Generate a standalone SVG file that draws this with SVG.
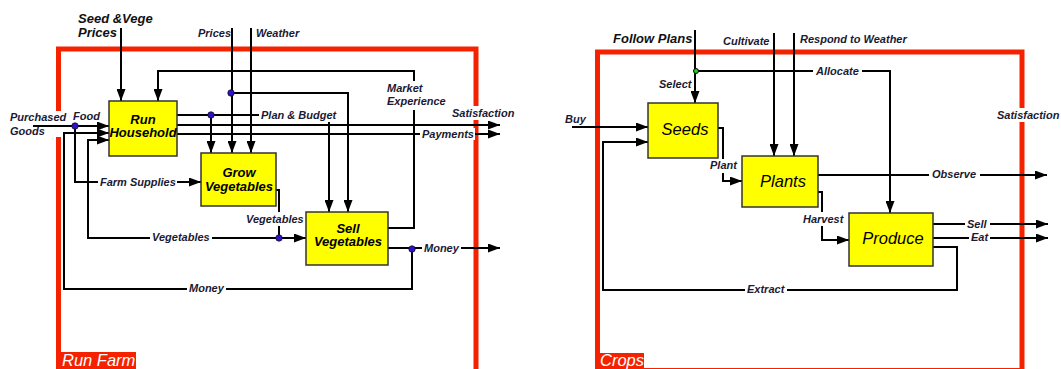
<svg xmlns="http://www.w3.org/2000/svg" width="1061" height="369" viewBox="0 0 1061 369">
<style>
.frame{fill:none;stroke:#f52200;stroke-width:5}
.fbox{fill:#f52200}
.ftxt{font-family:"Liberation Sans",Arial,sans-serif;font-style:italic;font-size:16.5px;fill:#fff}
.node{fill:#ffff00;stroke:#333;stroke-width:1.5}
.nb{font-family:"Liberation Sans",Arial,sans-serif;font-style:italic;font-weight:bold;font-size:13px;fill:#000;text-anchor:middle}
.nr{font-family:"Liberation Sans",Arial,sans-serif;font-style:italic;font-size:16.5px;fill:#000;text-anchor:middle}
.c{fill:none;stroke:#000;stroke-width:2}
.ca{fill:none;stroke:#000;stroke-width:2;marker-end:url(#ah)}
.l{font-family:"Liberation Sans",Arial,sans-serif;font-style:italic;font-weight:bold;font-size:11px;fill:#1a1a33}
.big{font-family:"Liberation Sans",Arial,sans-serif;font-style:italic;font-weight:bold;font-size:13px;fill:#111}
.bg{fill:#fff}
.dot{fill:#3010d0;stroke:#111;stroke-width:0.8}
.gdot{fill:#22cc22;stroke:#000;stroke-width:1}
</style>
<defs>
<marker id="ah" markerUnits="userSpaceOnUse" markerWidth="13" markerHeight="9" refX="12" refY="4.5" orient="auto">
<path d="M0,0 L12,4.5 L0,9 z" fill="#000"/>
</marker>
</defs>
<rect width="1061" height="369" fill="#fff"/>

<!-- frames -->
<g id="frame-runfarm">
<rect class="frame" x="58.5" y="49" width="417.5" height="340"/>
<rect class="bg" x="8" y="111" width="60" height="26"/>
<rect class="fbox" x="56" y="352" width="80" height="20"/>
<text class="ftxt" x="62" y="366">Run Farm</text>
</g>
<g id="frame-crops">
<rect class="frame" x="597.5" y="52" width="424.5" height="318.5"/>
<rect class="fbox" x="595" y="353" width="49" height="19"/>
<text class="ftxt" x="600" y="366">Crops</text>
</g>

<!-- connectors -->
<g id="connectors">
<!-- left diagram -->
<path class="ca" d="M121,28 V101"/>
<path class="ca" d="M232,28 V153"/>
<path class="ca" d="M251,28 V153"/>
<path class="ca" d="M231,93 H348 V212"/>
<path class="ca" d="M177,115 H329 V212"/>
<path class="ca" d="M211,115 V153"/>
<path class="ca" d="M177,125 H500"/>
<path class="ca" d="M177,134 H500"/>
<path class="ca" d="M388,228 H414 V71 H158 V101"/>
<path class="ca" d="M33,126 H109"/>
<path class="ca" d="M75,126 V182 H201"/>
<path class="ca" d="M276,190 H279 V238 H306"/>
<path class="ca" d="M279,238 H88 V140 H109"/>
<path class="ca" d="M388,248 H500"/>
<path class="ca" d="M412,249 V289 H64 V133 H109"/>
<!-- right diagram -->
<path class="ca" d="M695,30 V103"/>
<path class="ca" d="M696,71 H890 V213"/>
<path class="ca" d="M774,33 V156"/>
<path class="ca" d="M794,33 V156"/>
<path class="ca" d="M572,127 H648"/>
<path class="ca" d="M718,128 H723 V181 H742"/>
<path class="ca" d="M818,192 H822 V240 H849"/>
<path class="ca" d="M818,175 H1047"/>
<path class="ca" d="M933,224 H1048"/>
<path class="ca" d="M933,238 H1048"/>
<path class="ca" d="M933,247 H957 V290 H603 V142 H648"/>
<!-- junction dots -->
<circle class="dot" cx="75" cy="126" r="3.2"/>
<circle class="dot" cx="231" cy="93" r="3.2"/>
<circle class="dot" cx="211" cy="115" r="3.2"/>
<circle class="dot" cx="279" cy="238" r="3.2"/>
<circle class="dot" cx="412" cy="249" r="3.2"/>
<circle class="gdot" cx="696" cy="71" r="2.5"/>
</g>

<!-- label backgrounds -->
<g id="label-bg">
<rect class="bg" x="98" y="176" width="79" height="12"/>
<rect class="bg" x="259" y="107" width="78" height="15"/>
<rect class="bg" x="420" y="128" width="55" height="12"/>
<rect class="bg" x="450" y="106" width="65" height="14"/>
<rect class="bg" x="244" y="212" width="62" height="14"/>
<rect class="bg" x="150" y="232" width="62" height="11"/>
<rect class="bg" x="187" y="283" width="39" height="11"/>
<rect class="bg" x="422" y="243" width="39" height="11"/>
<rect class="bg" x="385" y="81" width="62" height="29"/>
<rect class="bg" x="813" y="65" width="49" height="11"/>
<rect class="bg" x="929" y="169" width="51" height="11"/>
<rect class="bg" x="995" y="108" width="66" height="14"/>
<rect class="bg" x="801" y="212" width="45" height="14"/>
<rect class="bg" x="708" y="159" width="32" height="14"/>
<rect class="bg" x="965" y="219" width="25" height="10"/>
<rect class="bg" x="969" y="233" width="21" height="10"/>
<rect class="bg" x="745" y="284" width="42" height="11"/>
</g>

<!-- nodes -->
<g id="node-run-household">
<rect class="node" x="109" y="101" width="68" height="55"/>
<text class="nb" x="143" y="123.5">Run</text>
<text class="nb" x="143" y="137">Household</text>
</g>
<g id="node-grow-vegetables">
<rect class="node" x="201" y="153" width="75" height="53"/>
<text class="nb" x="239" y="177">Grow</text>
<text class="nb" x="239" y="191">Vegetables</text>
</g>
<g id="node-sell-vegetables">
<rect class="node" x="306" y="212" width="82" height="53"/>
<text class="nb" x="348" y="233">Sell</text>
<text class="nb" x="348" y="246">Vegetables</text>
</g>
<g id="node-seeds">
<rect class="node" x="648" y="103" width="70" height="55"/>
<text class="nr" x="685" y="135">Seeds</text>
</g>
<g id="node-plants">
<rect class="node" x="742" y="156" width="76" height="51"/>
<text class="nr" x="783" y="187">Plants</text>
</g>
<g id="node-produce">
<rect class="node" x="849" y="213" width="84" height="53"/>
<text class="nr" x="893" y="244">Produce</text>
</g>

<!-- labels -->
<g id="labels">
<text class="big" x="78" y="23">Seed &amp;Vege</text>
<text class="big" x="78" y="37">Prices</text>
<text class="l" x="198" y="37">Prices</text>
<text class="l" x="256" y="37">Weather</text>
<text class="l" x="10" y="121">Purchased</text>
<text class="l" x="10" y="135">Goods</text>
<text class="l" x="73" y="120">Food</text>
<text class="l" x="100" y="186">Farm Supplies</text>
<text class="l" x="261" y="119">Plan &amp; Budget</text>
<text class="l" x="387" y="92">Market</text>
<text class="l" x="387" y="105">Experience</text>
<text class="l" x="452" y="117">Satisfaction</text>
<text class="l" x="422" y="138">Payments</text>
<text class="l" x="246" y="223">Vegetables</text>
<text class="l" x="152" y="241">Vegetables</text>
<text class="l" x="189" y="292">Money</text>
<text class="l" x="424" y="252">Money</text>
<text class="big" x="613" y="43">Follow Plans</text>
<text class="l" x="723" y="45">Cultivate</text>
<text class="l" x="800" y="43">Respond to Weather</text>
<text class="l" x="659" y="88">Select</text>
<text class="l" x="816" y="75">Allocate</text>
<text class="l" x="565" y="123">Buy</text>
<text class="l" x="710" y="169">Plant</text>
<text class="l" x="932" y="178">Observe</text>
<text class="l" x="997" y="119">Satisfaction</text>
<text class="l" x="803" y="223">Harvest</text>
<text class="l" x="967" y="228">Sell</text>
<text class="l" x="971" y="241">Eat</text>
<text class="l" x="747" y="293">Extract</text>
</g>
</svg>
